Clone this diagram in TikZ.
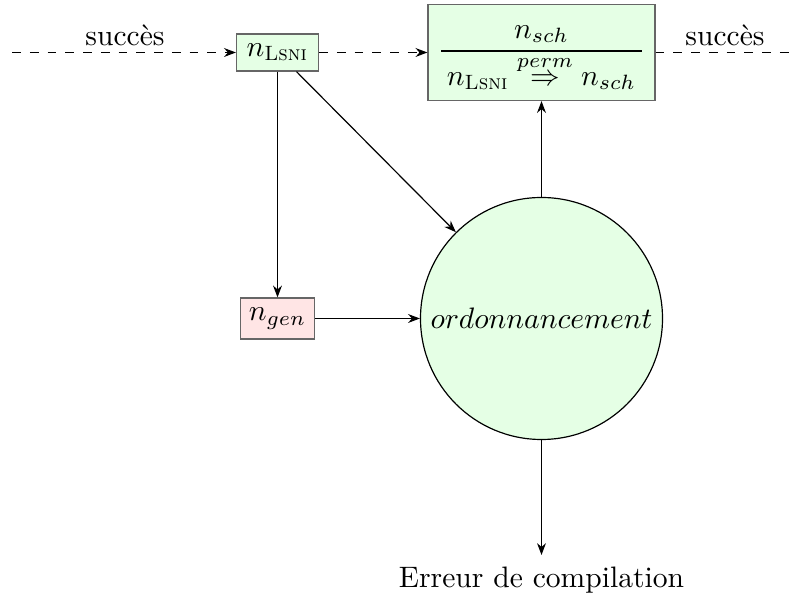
\documentclass[tikz,border=0pt]{standalone}
\usepackage{amsmath}
\usetikzlibrary{arrows.meta}
\begin{document}
\begin{tikzpicture}[x=0.338pt,y=-0.338pt,
  box/.style={draw=black!60,fill=green!10,inner sep=2pt},
  genbox/.style={draw=black!60,fill=red!10,inner sep=2pt},
  circ/.style={draw=black,fill=green!10,circle,minimum size=242*0.338pt,inner sep=0pt},
  arr/.style={-{Stealth[length=4pt,width=3pt]}},
  lab/.style={inner sep=0pt}]
\useasboundingbox (0,0) rectangle (796,599);
\coordinate (start) at (12,52.5);
\coordinate (end) at (796,52.5);
\node[box,minimum width=82*0.338pt,minimum height=37*0.338pt] (lsni) at (277.5,52.5) {$n_{\textsc{Lsni}}$};
\node[box,minimum width=227*0.338pt,minimum height=96*0.338pt] (sch) at (541.5,52.5) {\raisebox{-2pt}[0pt][0pt]{$\dfrac{n_{sch}}{\kern2pt n_{\textsc{Lsni}}\overset{perm}{\Rightarrow} n_{sch}\kern2pt}$}};
\node[genbox,minimum width=74*0.338pt,minimum height=41*0.338pt] (gen) at (277.5,318.5) {$n_{gen}$};
\node[circ] (ord) at (541.5,318.5) {$ordonnancement$};
\node[lab] (err) at (541.5,580) {Erreur de compilation};
\node[lab] (s1) at (125,35) {succès};
\node[lab] (s2) at (725,35) {succès};
\coordinate (errtop) at (541.5,555);
\draw[arr,dashed] (start) -- (lsni);
\draw[arr,dashed] (lsni) -- (sch);
\draw[dashed] (sch) -- (end);
\draw[arr] (lsni) -- (gen);
\draw[arr] (lsni) -- (ord);
\draw[arr] (gen) -- (ord);
\draw[arr] (ord) -- (sch);
\draw[arr] (ord) -- (errtop);
\end{tikzpicture}
\end{document}
